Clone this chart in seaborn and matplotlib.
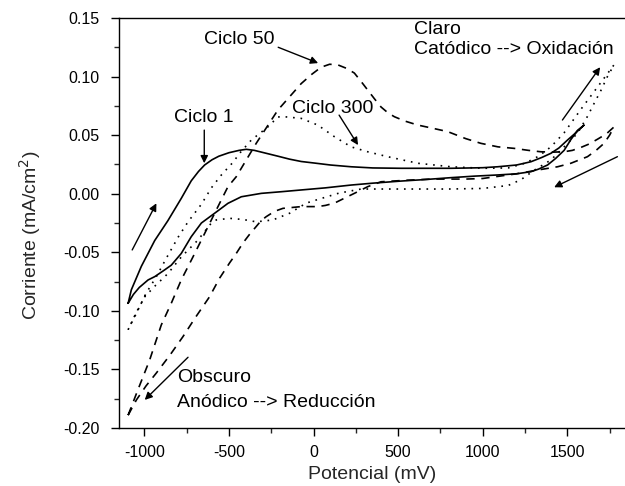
import numpy as np
import pandas as pd
import matplotlib
matplotlib.use("Agg")
import matplotlib.pyplot as plt
from matplotlib.ticker import MultipleLocator, FormatStrFormatter
import seaborn as sns

# Ciclo 1 (linea continua): barrido de ida y vuelta
e_ciclo1 = [-1096, -1077, -1018, -939, -861, -782, -723, -680, -644, -600, -560, -500, -440,
            -398, -350, -280, -210, -142, -73, 15, 100, 222, 350, 517, 812, 1000, 1088,
            1200, 1285, 1350, 1403, 1450, 1501, 1550, 1599,
            1560, 1520, 1481, 1430, 1383, 1330, 1285, 1200, 1088, 950, 812, 650, 517, 350, 222,
            70, -73, -191, -309, -427, -506, -585, -663, -723, -782, -841, -880, -939, -978,
            -1030, -1065, -1096]
i_ciclo1 = [-0.0935, -0.082, -0.062, -0.040, -0.023, -0.004, 0.011, 0.019, 0.0245, 0.029,
            0.032, 0.035, 0.037, 0.0379, 0.037, 0.0345, 0.032, 0.0295, 0.0275,
            0.026, 0.0245, 0.023, 0.022, 0.0217, 0.0217, 0.0222, 0.023, 0.0245, 0.0273, 0.031,
            0.0345, 0.039, 0.0458, 0.052, 0.0586,
            0.054, 0.046, 0.037, 0.030, 0.0245, 0.021, 0.0188, 0.017, 0.016, 0.015, 0.0137,
            0.012, 0.0108, 0.009, 0.0074, 0.005, 0.0032, 0.0017, 0.0003, -0.0026, -0.0082,
            -0.0167, -0.025, -0.0367, -0.051, -0.061, -0.065, -0.0708, -0.0736, -0.080,
            -0.086, -0.0935]

# Ciclo 50 (linea discontinua)
e_ciclo50 = [-1096, -1040, -969, -900, -841, -782, -713, -644, -565, -506, -457, -339, -211, -73,
             -10, 45, 95, 143, 195, 241, 280, 320, 360, 399, 440, 478, 540, 616, 700, 793, 900,
             989, 1090, 1186, 1270, 1344, 1420, 1481, 1530, 1580, 1630, 1678, 1730, 1776,
             1750, 1717, 1670, 1619, 1521, 1442, 1324, 1200, 1100, 1000, 900, 800, 700, 550,
             399, 320, 241, 180, 124, 70, 25, -73, -181, -230, -280, -310, -339, -380, -417,
             -457, -496, -555, -615, -700, -772, -850, -929, -990, -1047, -1096]
i_ciclo50 = [-0.189, -0.168, -0.142, -0.112, -0.0935, -0.0736, -0.054, -0.034, -0.011, 0.006,
             0.0145, 0.043, 0.0714, 0.094, 0.102, 0.108, 0.1105, 0.110, 0.107, 0.103, 0.096,
             0.0885, 0.081, 0.074, 0.069, 0.0657, 0.062, 0.0586, 0.056, 0.053, 0.047, 0.043,
             0.040, 0.0387, 0.037, 0.0358, 0.0355, 0.0358, 0.037, 0.0395, 0.0425, 0.0465,
             0.051, 0.057,
             0.050, 0.043, 0.037, 0.0316, 0.026, 0.023, 0.0202, 0.017, 0.015, 0.013, 0.0125,
             0.0125, 0.0125, 0.0115, 0.0102, 0.006, 0.0003, -0.004, -0.008, -0.010, -0.011,
             -0.011, -0.0125, -0.015, -0.0196, -0.023, -0.028, -0.035, -0.042, -0.051, -0.059,
             -0.072, -0.088, -0.106, -0.122, -0.138, -0.153, -0.164, -0.176, -0.189]

# Ciclo 300 (linea punteada)
e_ciclo300 = [-1096, -1047, -990, -930, -870, -800, -742, -663, -604, -545, -475, -437, -368, -270,
              -211, -172, -73, 25, 124, 222, 320, 438, 616, 812, 1000, 1150, 1250, 1330, 1403,
              1481, 1580, 1678, 1776,
              1737, 1698, 1658, 1619, 1560, 1481, 1403, 1304, 1226, 1150, 1000, 800, 600, 400,
              281, 150, 15, -43, -142, -241, -339, -417, -496, -575, -604, -683, -782, -860,
              -939, -998, -1050, -1096]
i_ciclo300 = [-0.116, -0.102, -0.085, -0.071, -0.055, -0.037, -0.024, -0.009, 0.005, 0.016, 0.027,
              0.0345, 0.0458, 0.057, 0.0655, 0.0657, 0.0643, 0.0586, 0.0486, 0.040, 0.0358,
              0.0316, 0.026, 0.023, 0.0217, 0.022, 0.026, 0.032, 0.040, 0.052, 0.072, 0.091,
              0.110,
              0.100, 0.088, 0.077, 0.066, 0.0515, 0.040, 0.0288, 0.020, 0.012, 0.007, 0.0045,
              0.004, 0.004, 0.004, 0.004, 0.0005, -0.0054, -0.008, -0.0167, -0.0224, -0.024,
              -0.022, -0.021, -0.0224, -0.025, -0.0395, -0.054, -0.068, -0.079, -0.088, -0.102,
              -0.116]

sns.set_style("ticks")
plt.rcParams['font.family'] = ['Liberation Sans', 'DejaVu Sans']
plt.rcParams['axes.unicode_minus'] = False

fig = plt.figure(figsize=(6.25, 4.86), dpi=100)
ax = fig.add_axes([0.1904, 0.1193, 0.8256, 0.8437])

curvas = [
    (e_ciclo1, i_ciclo1, "-", None),
    (e_ciclo50, i_ciclo50, "--", (5, 4)),
    (e_ciclo300, i_ciclo300, ":", (1, 3.5)),
]
for e, i, ls, dash in curvas:
    df = pd.DataFrame({"E": e, "I": i})
    sns.lineplot(data=df, x="E", y="I", sort=False, estimator=None, ax=ax,
                 color="black", lw=1.2, linestyle=ls)
    if dash is not None:
        ax.lines[-1].set_dashes(dash)

ax.set_xlim(-1150, 1900)
ax.set_ylim(-0.20, 0.15)
ax.xaxis.set_major_locator(MultipleLocator(500))
ax.xaxis.set_minor_locator(MultipleLocator(250))
ax.yaxis.set_major_locator(MultipleLocator(0.05))
ax.yaxis.set_minor_locator(MultipleLocator(0.025))
ax.yaxis.set_major_formatter(FormatStrFormatter('%.2f'))
ax.tick_params(which='major', direction='out', length=6, width=1, labelsize=11.5, colors='black')
ax.tick_params(which='minor', direction='out', length=3.5, width=1)
ax.tick_params(axis='x', which='major', pad=6)
ax.tick_params(axis='y', which='major', pad=8)
for s in ax.spines.values():
    s.set_linewidth(1)
    s.set_color('black')

ax.set_xlabel("Potencial (mV)", fontsize=14)
ax.set_ylabel("Corriente (mA/cm$^2$)", fontsize=14)
ax.xaxis.set_label_coords(0.49, -0.092)
ax.yaxis.set_label_coords(-0.147, 0.471)

flecha = dict(arrowstyle='-|>', color='black', lw=1, mutation_scale=11, shrinkA=0, shrinkB=0)
txt = dict(fontsize=14, color='black')

ax.text(-646, 0.132, "Ciclo 50", va='center', ha='left', **txt)
ax.annotate("", xy=(27, 0.1115), xytext=(-209, 0.125), arrowprops=flecha)
ax.text(-823, 0.0654, "Ciclo 1", va='center', ha='left', **txt)
ax.annotate("", xy=(-646, 0.026), xytext=(-646, 0.0543), arrowprops=flecha)
ax.text(-126, 0.073, "Ciclo 300", va='center', ha='left', **txt)
ax.annotate("", xy=(263, 0.0415), xytext=(151, 0.0671), arrowprops=flecha)

ax.text(594, 0.1405, "Claro", va='center', ha='left', **txt)
ax.text(594, 0.1234, "Catódico --> Oxidación", va='center', ha='left', **txt)
ax.text(-805, -0.157, "Obscuro", va='center', ha='left', **txt)
ax.text(-805, -0.178, "Anódico --> Reducción", va='center', ha='left', **txt)

ax.annotate("", xy=(-929, -0.0082), xytext=(-1072, -0.048), arrowprops=flecha)
ax.annotate("", xy=(1694, 0.108), xytext=(1471, 0.0629), arrowprops=flecha)
ax.annotate("", xy=(1422, 0.0055), xytext=(1796, 0.0316), arrowprops=flecha)
ax.annotate("", xy=(-998, -0.176), xytext=(-742, -0.1396), arrowprops=flecha)

fig.savefig("out.png", dpi=100)
